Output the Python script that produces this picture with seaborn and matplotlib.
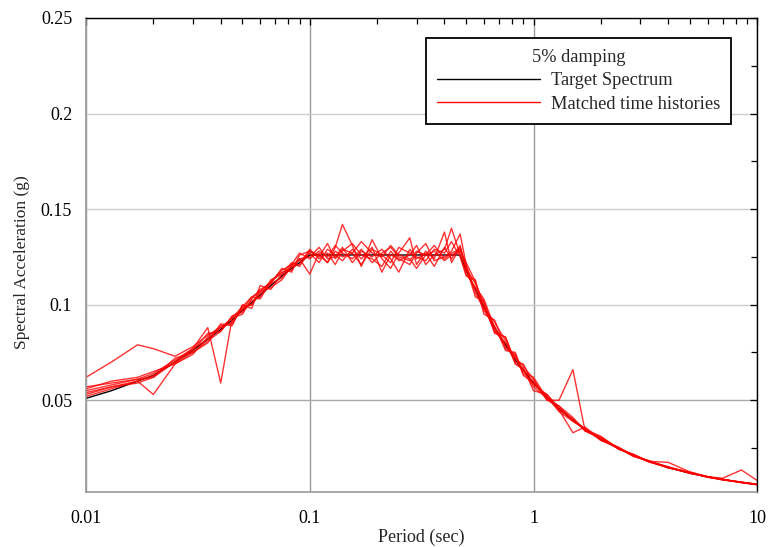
import numpy as np
import pandas as pd
import seaborn as sns
import matplotlib
matplotlib.use("Agg")
import matplotlib.pyplot as plt
from matplotlib.ticker import AutoMinorLocator, LogLocator, FuncFormatter, NullFormatter
from matplotlib.lines import Line2D

# Periods (sec)
period = [0.01, 0.013, 0.017, 0.02, 0.025, 0.03, 0.035, 0.04, 0.045, 0.05,
          0.055, 0.06, 0.067, 0.075, 0.083, 0.09, 0.1, 0.11, 0.12, 0.13,
          0.14, 0.155, 0.17, 0.19, 0.21, 0.23, 0.25, 0.28, 0.3, 0.33,
          0.36, 0.4, 0.43, 0.47, 0.5, 0.55, 0.6, 0.67, 0.75, 0.83,
          0.9, 1.0, 1.15, 1.3, 1.5, 1.7, 2.0, 2.4, 2.8, 3.3,
          4.0, 5.0, 6.0, 7.0, 8.5, 10.0]

# Target spectrum (g)
target = [0.051, 0.055, 0.060, 0.063, 0.070, 0.076, 0.082, 0.087, 0.092, 0.097,
          0.101, 0.105, 0.110, 0.115, 0.119, 0.122, 0.126, 0.126, 0.126, 0.126,
          0.126, 0.126, 0.126, 0.126, 0.126, 0.126, 0.126, 0.126, 0.126, 0.126,
          0.126, 0.126, 0.126, 0.126, 0.118, 0.108, 0.099, 0.088, 0.079, 0.071,
          0.066, 0.059, 0.0515, 0.0455, 0.0395, 0.0348, 0.0296, 0.0247, 0.0211, 0.0179,
          0.0148, 0.0118, 0.0099, 0.0085, 0.0070, 0.0059]

# Matched time histories (g)
th1 = [0.062, 0.070, 0.079, 0.077, 0.073, 0.078, 0.084, 0.088, 0.093, 0.099,
       0.104, 0.107, 0.112, 0.118, 0.121, 0.127, 0.124, 0.128, 0.125, 0.131,
       0.127, 0.124, 0.129, 0.122, 0.127, 0.130, 0.125, 0.123, 0.128, 0.126,
       0.131, 0.124, 0.127, 0.129, 0.119, 0.111, 0.101, 0.086, 0.083, 0.070,
       0.069, 0.058, 0.053, 0.045, 0.040, 0.034, 0.030, 0.025, 0.021, 0.018,
       0.0175, 0.0125, 0.0100, 0.0086, 0.0071, 0.0060]
th2 = [0.055, 0.058, 0.061, 0.064, 0.071, 0.077, 0.088, 0.059, 0.093, 0.095,
       0.103, 0.108, 0.111, 0.119, 0.117, 0.126, 0.128, 0.125, 0.132, 0.124,
       0.129, 0.127, 0.121, 0.129, 0.126, 0.122, 0.130, 0.127, 0.125, 0.123,
       0.129, 0.127, 0.133, 0.125, 0.115, 0.113, 0.095, 0.092, 0.077, 0.074,
       0.065, 0.062, 0.051, 0.047, 0.039, 0.035, 0.029, 0.025, 0.021, 0.0178,
       0.0149, 0.0119, 0.0098, 0.0086, 0.0069, 0.0058]
th3 = [0.053, 0.057, 0.060, 0.053, 0.069, 0.074, 0.083, 0.089, 0.090, 0.099,
       0.100, 0.107, 0.109, 0.113, 0.120, 0.124, 0.116, 0.127, 0.122, 0.130,
       0.142, 0.131, 0.120, 0.134, 0.124, 0.119, 0.127, 0.135, 0.121, 0.128,
       0.124, 0.138, 0.122, 0.130, 0.120, 0.104, 0.102, 0.085, 0.083, 0.069,
       0.067, 0.055, 0.053, 0.046, 0.040, 0.035, 0.030, 0.0245, 0.0215, 0.018,
       0.0147, 0.0119, 0.0099, 0.0085, 0.0071, 0.0059]
th4 = [0.057, 0.059, 0.061, 0.062, 0.072, 0.075, 0.081, 0.086, 0.094, 0.096,
       0.102, 0.104, 0.113, 0.116, 0.120, 0.121, 0.129, 0.124, 0.127, 0.121,
       0.128, 0.132, 0.126, 0.124, 0.120, 0.128, 0.123, 0.126, 0.131, 0.121,
       0.126, 0.129, 0.140, 0.126, 0.116, 0.109, 0.103, 0.088, 0.078, 0.073,
       0.064, 0.060, 0.050, 0.050, 0.066, 0.034, 0.030, 0.025, 0.0205, 0.0182,
       0.0151, 0.0117, 0.0101, 0.0084, 0.0072, 0.0060]
th5 = [0.052, 0.056, 0.060, 0.063, 0.070, 0.077, 0.082, 0.088, 0.091, 0.098,
       0.100, 0.106, 0.111, 0.114, 0.121, 0.123, 0.127, 0.122, 0.129, 0.126,
       0.123, 0.129, 0.124, 0.130, 0.117, 0.126, 0.124, 0.121, 0.127, 0.132,
       0.123, 0.125, 0.128, 0.137, 0.121, 0.106, 0.098, 0.091, 0.081, 0.069,
       0.066, 0.057, 0.051, 0.045, 0.033, 0.036, 0.029, 0.0255, 0.021, 0.0176,
       0.0152, 0.0121, 0.0098, 0.0087, 0.0070, 0.0061]
th6 = [0.054, 0.057, 0.059, 0.062, 0.070, 0.076, 0.085, 0.086, 0.094, 0.097,
       0.104, 0.103, 0.112, 0.117, 0.118, 0.124, 0.125, 0.130, 0.124, 0.125,
       0.130, 0.122, 0.128, 0.125, 0.129, 0.124, 0.117, 0.129, 0.124, 0.127,
       0.120, 0.130, 0.124, 0.131, 0.118, 0.108, 0.097, 0.089, 0.076, 0.075,
       0.063, 0.059, 0.052, 0.044, 0.039, 0.035, 0.031, 0.0248, 0.0208, 0.0183,
       0.0147, 0.0124, 0.0100, 0.0092, 0.0135, 0.0080]
th7 = [0.056, 0.060, 0.062, 0.065, 0.069, 0.075, 0.080, 0.090, 0.089, 0.100,
       0.098, 0.110, 0.108, 0.116, 0.122, 0.120, 0.128, 0.126, 0.122, 0.128,
       0.125, 0.127, 0.133, 0.127, 0.125, 0.131, 0.126, 0.124, 0.119, 0.126,
       0.128, 0.123, 0.126, 0.128, 0.122, 0.112, 0.099, 0.086, 0.080, 0.072,
       0.068, 0.061, 0.050, 0.047, 0.041, 0.034, 0.031, 0.0243, 0.0218, 0.0177,
       0.0146, 0.0122, 0.0097, 0.0083, 0.0069, 0.0057]

histories = [th1, th2, th3, th4, th5, th6, th7]

df_hist = pd.DataFrame({
    "period": period * len(histories),
    "sa": [v for h in histories for v in h],
    "run": [i for i in range(len(histories)) for _ in period],
})

sns.set_style("white")
plt.rcParams["font.family"] = ["Liberation Serif", "DejaVu Serif"]

fig = plt.figure(figsize=(7.68, 5.47), dpi=100)
ax = fig.add_axes([0.112, 0.1006, 0.874, 0.8665])

# Target spectrum underneath, time histories on top
sns.lineplot(x=period, y=target, color="black", lw=1.0, ax=ax)
sns.lineplot(data=df_hist, x="period", y="sa", units="run", estimator=None,
             color="red", lw=1.0, alpha=0.8, ax=ax)

ax.set_xscale("log")
ax.set_xlim(0.01, 10)
ax.set_ylim(0.002, 0.25)
ax.set_yticks([0.05, 0.1, 0.15, 0.2, 0.25])
ax.set_yticklabels(["0.05", "0.1", "0.15", "0.2", "0.25"])
ax.yaxis.set_minor_locator(AutoMinorLocator(2))
ax.xaxis.set_major_locator(LogLocator(base=10))
ax.xaxis.set_major_formatter(FuncFormatter(lambda v, p: "%g" % v))
ax.xaxis.set_minor_locator(LogLocator(base=10, subs=np.arange(2, 10)))
ax.xaxis.set_minor_formatter(NullFormatter())

ax.tick_params(which="both", direction="in", top=True, right=True,
               labelsize=13, colors="black")
ax.tick_params(which="major", length=5, width=0.9)
ax.tick_params(which="minor", length=4, width=0.9)
ax.tick_params(axis="x", pad=13)
ax.tick_params(axis="y", pad=10)

# Grid
ax.grid(True, axis="x", which="major", color="#999999", lw=1.0)
ax.grid(True, axis="y", which="major", color="#cccccc", lw=1.0)
ax.yaxis.get_gridlines()[0].set_color("#aaaaaa")
ax.set_axisbelow(True)

for side in ["left", "bottom"]:
    ax.spines[side].set_color("#999999")
    ax.spines[side].set_linewidth(1.2)
for side in ["top", "right"]:
    ax.spines[side].set_color("black")
    ax.spines[side].set_linewidth(1.0)

ax.set_xlabel("Period (sec)", fontsize=13, labelpad=1)
ax.set_ylabel("Spectral Acceleration (g)", fontsize=12.5, labelpad=8)
ax.yaxis.set_label_coords(-0.083, 0.485)

handles = [Line2D([], [], color="black", lw=1.0),
           Line2D([], [], color="red", lw=1.0)]
leg = ax.legend(handles, ["Target Spectrum", "Matched time histories"],
                title="5% damping", loc="upper right",
                bbox_to_anchor=(0.975, 0.978), fontsize=13.2, title_fontsize=13.2,
                handlelength=5.6, handletextpad=0.6, labelspacing=0.36,
                borderpad=0.6, fancybox=False, framealpha=1, edgecolor="black")
leg.get_frame().set_linewidth(1.3)

plt.savefig("out.png", dpi=100)
